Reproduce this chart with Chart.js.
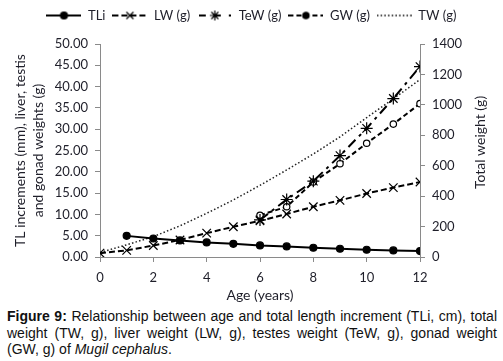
<!DOCTYPE html>
<html>
<head>
<meta charset="utf-8">
<script src="https://cdn.jsdelivr.net/npm/chart.js@4/dist/chart.umd.min.js"></script>
<style>
    body { margin: 0; background: #fff; }
    #wrap { position: absolute; left: 0; top: 0; width: 503px; height: 304px; }
    #caption {
        position: absolute; left: 7px; top: 308px; width: 490px;
        font-family: "Liberation Sans", Arial, sans-serif; font-size: 14px;
        line-height: 16.7px; color: #111;
    }
    #caption .full { text-align: justify; text-align-last: justify; white-space: nowrap; }
</style>
</head>
<body>
<div id="wrap"><canvas id="chart-age"></canvas></div>
<div id="caption">
    <div class="full"><b>Figure 9:</b> Relationship between age and total length increment (TLi, cm), total</div>
    <div class="full">weight (TW, g), liver weight (LW, g), testes weight (TeW, g), gonad weight</div>
    <div>(GW, g) of <i>Mugil cephalus</i>.</div>
</div>
<script>
// Values
const ages = [0, 1, 2, 3, 4, 5, 6, 7, 8, 9, 10, 11, 12];
const tli = [null, 4.96, 4.34, 3.88, 3.41, 3.10, 2.71, 2.48, 2.17, 1.94, 1.70, 1.55, 1.40];
const lw = [0.9, 1.55, 2.7, 4.0, 5.6, 7.1, 8.5, 10.1, 11.8, 13.3, 14.9, 16.3, 17.6];
const tew = [null, null, null, null, null, null, 8.7, 13.5, 17.8, 23.8, 30.2, 37.2, 44.7];
const gw = [null, null, null, null, null, null, 9.8, 11.8, 17.6, 21.9, 26.7, 31.2, 36.0];
const tw = [30, 80, 134, 205, 287, 375, 471, 572, 677, 790, 916, 1040, 1166];

const TEXT = '#1f1f2a';
const AXIS = '#8a8a8a';
const FONT = 'Lato, Calibri, sans-serif';

function points(vals) {
    return ages.map((a, i) => ({ x: a, y: vals[i] })).filter(p => p.y !== null);
}

const SERIES = [
    { label: 'TLi', data: tli, axis: 'y', dash: [], width: 2, style: 'circle', radius: 3.5, fill: '#000' },
    { label: 'LW (g)', data: lw, axis: 'y', dash: [6, 3], width: 2, style: 'crossRot', radius: 6, fill: '#000' },
    { label: 'TeW (g)', data: tew, axis: 'y', dash: [10, 5, 3, 5], width: 2, style: 'star', radius: 6, fill: '#000' },
    { label: 'GW (g)', data: gw, axis: 'y', dash: [5, 3], width: 2, style: 'circle', radius: 3.2, fill: '#fff' },
    { label: 'TW (g)', data: tw, axis: 'y1', dash: [1.5, 2.2], width: 1.5, style: false, radius: 0, fill: '#000' },
];

// little line+marker sample for the legend
function legendIcon(s, w) {
    const c = document.createElement('canvas');
    c.width = w; c.height = 14;
    const ctx = c.getContext('2d');
    ctx.strokeStyle = '#000';
    ctx.lineWidth = s.width;
    ctx.setLineDash(s.label === 'TeW (g)' ? [7, 8] : s.dash);
    ctx.beginPath();
    ctx.moveTo(0, 7);
    ctx.lineTo(w, 7);
    ctx.stroke();
    ctx.setLineDash([]);
    if (s.style) {
        ctx.fillStyle = s.label === 'GW (g)' ? '#000' : s.fill;
        ctx.lineWidth = 1.2;
        Chart.helpers.drawPoint(ctx, { pointStyle: s.style, radius: Math.min(s.radius, 5), rotation: 0, borderWidth: 1.2 }, w / 2, 7);
    }
    return c;
}

const datasets = SERIES.map(s => ({
    label: s.label,
    data: points(s.data),
    yAxisID: s.axis,
    borderColor: s.label === 'TW (g)' ? '#222' : '#000',
    borderWidth: s.width,
    borderDash: s.dash,
    pointStyle: s.style,
    pointRadius: s.radius,
    pointBackgroundColor: s.fill,
    pointBorderColor: '#000',
    pointBorderWidth: 1.2,
    tension: 0,
    fill: false,
}));

const icons = SERIES.map(s => legendIcon(s, s.label === 'TeW (g)' ? 32 : 35));

// push the plot down under the legend
const legendGap = {
    id: 'legendGap',
    afterInit(chart) {
        const fit = chart.legend.fit;
        chart.legend.fit = function () {
            fit.call(this);
            this.height += 12;
        };
    },
};

// right axis title reads bottom-to-top like the left one
const rightTitle = {
    id: 'rightTitle',
    afterDraw(chart) {
        const sc = chart.scales.y1;
        const ctx = chart.ctx;
        ctx.save();
        ctx.translate(480, (sc.top + sc.bottom) / 2 - 8);
        ctx.rotate(-Math.PI / 2);
        ctx.font = '14px ' + FONT;
        ctx.fillStyle = TEXT;
        ctx.textAlign = 'center';
        ctx.textBaseline = 'middle';
        ctx.fillText('Total weight (g)', 0, 0);
        ctx.restore();
    },
};

new Chart(document.getElementById('chart-age'), {
    type: 'line',
    data: { datasets: datasets },
    plugins: [legendGap, rightTitle],
    options: {
        responsive: true,
        maintainAspectRatio: false,
        animation: false,
        layout: { padding: { top: 2, left: 0, right: 0, bottom: 0 } },
        plugins: {
            tooltip: { enabled: false },
            legend: {
                position: 'top',
                labels: {
                    usePointStyle: true,
                    pointStyleWidth: 35,
                    boxHeight: 13,
                    padding: 7,
                    color: TEXT,
                    font: { family: FONT, size: 13 },
                    generateLabels: chart => SERIES.map((s, i) => ({
                        text: s.label,
                        pointStyle: icons[i],
                        fillStyle: '#000',
                        strokeStyle: '#000',
                        lineWidth: 0,
                        fontColor: TEXT,
                        datasetIndex: i,
                        hidden: false,
                    })),
                },
            },
        },
        scales: {
            x: {
                type: 'linear',
                min: 0,
                max: 12,
                ticks: { stepSize: 2, color: TEXT, font: { family: FONT, size: 13 }, padding: 8 },
                grid: { drawOnChartArea: false, color: AXIS, tickLength: 5 },
                border: { color: AXIS, width: 1 },
                title: { display: true, text: 'Age (years)', color: TEXT, font: { family: FONT, size: 14 }, padding: 0 },
                afterFit: sc => { sc.height = 47; },
            },
            y: {
                position: 'left',
                min: 0,
                max: 50,
                ticks: { stepSize: 5, color: TEXT, font: { family: FONT, size: 13 }, padding: 7, callback: v => v.toFixed(2) },
                grid: { drawOnChartArea: false, color: AXIS, tickLength: 5 },
                border: { color: AXIS, width: 1 },
                title: {
                    display: true,
                    text: ['TL increments (mm), liver, testis', 'and gonad weights (g)'],
                    color: TEXT,
                    font: { family: FONT, size: 14, lineHeight: 1.25 },
                    padding: { top: 12 },
                },
                afterFit: sc => { sc.width = 100; },
            },
            y1: {
                position: 'right',
                min: 0,
                max: 1400,
                ticks: { stepSize: 200, color: TEXT, font: { family: FONT, size: 13 }, padding: 7, callback: v => String(v) },
                grid: { drawOnChartArea: false, color: AXIS, tickLength: 5 },
                border: { color: AXIS, width: 1 },
                title: { display: false },
                afterFit: sc => { sc.width = 83; },
            },
        },
    },
});
</script>
</body>
</html>
